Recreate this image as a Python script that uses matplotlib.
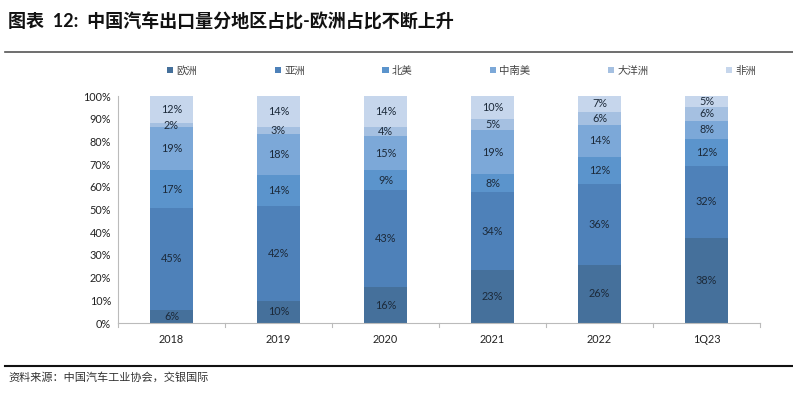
import matplotlib
matplotlib.use("Agg")
import matplotlib.pyplot as plt
from matplotlib.lines import Line2D
from matplotlib.patches import Patch
import numpy as np

plt.rcParams['font.family'] = ['Lato', 'Noto Sans CJK SC', 'DejaVu Sans']

categories = ['2018', '2019', '2020', '2021', '2022', '1Q23']
regions = ['欧洲', '亚洲', '北美', '中南美', '大洋洲', '非洲']
europe = [6, 10, 16, 23, 26, 38]
asia = [45, 42, 43, 34, 36, 32]
north_america = [17, 14, 9, 8, 12, 12]
latin_america = [19, 18, 15, 19, 14, 8]
oceania = [2, 3, 4, 5, 6, 6]
africa = [12, 14, 14, 10, 7, 5]
series = [europe, asia, north_america, latin_america, oceania, africa]
colors = ['#45709b', '#4e81b9', '#5b94cc', '#7ca8d8', '#a5c0e1', '#c6d6ec']
yticks = [0, 10, 20, 30, 40, 50, 60, 70, 80, 90, 100]

W, H = 793, 395
fig = plt.figure(figsize=(W/100, H/100), dpi=100)
ax = fig.add_axes([118/W, 1-323/H, (760-118)/W, (323-96)/H])

data = np.array(series, dtype=float)
totals = data.sum(axis=0)
norm = data / totals * 100
x = np.arange(len(categories))
bottom = np.zeros(len(categories))
for i, (vals, raw) in enumerate(zip(norm, data)):
    ax.bar(x, vals, bottom=bottom, width=0.4, color=colors[i], label=regions[i], zorder=2)
    for xi, b, v, r in zip(x, bottom, vals, raw):
        ax.text(xi, b + v/2, f'{int(r)}%', ha='center', va='center', fontsize=7.8,
                color='#1c2a3a', zorder=3)
    bottom += vals

ax.set_xlim(-0.5, len(categories)-0.5)
ax.set_ylim(0, 100)
ax.set_yticks(yticks)
ax.set_yticklabels([f'{t}%' for t in yticks], fontsize=7.8, color='#222222')
ax.set_xticks(x)
ax.set_xticklabels(categories, fontsize=7.8, color='#222222')
ax.tick_params(axis='x', length=0, pad=8)
ax.tick_params(axis='y', length=0, pad=5)
for xb in np.arange(-0.5, len(categories), 1.0):
    ax.plot([xb, xb], [0, -1.6], color='#bbbbbb', lw=0.8, clip_on=False)
for s in ['top', 'right']:
    ax.spines[s].set_visible(False)
ax.spines['left'].set_color('#bbbbbb')
ax.spines['bottom'].set_color('#bbbbbb')
ax.spines['left'].set_linewidth(0.8)
ax.spines['bottom'].set_linewidth(0.8)

handles = [Patch(facecolor=c, edgecolor='none') for c in colors]
leg = ax.legend(handles, regions, ncol=6, loc='lower left',
                bbox_to_anchor=((163-118)/642, (323-80)/227, (760-163)/642, 0.05),
                mode='expand', frameon=False, fontsize=7.5, handlelength=0.6,
                handleheight=0.6, handletextpad=0.3, borderaxespad=0)
for t in leg.get_texts():
    t.set_color('#444444')

fig.text(8/W, 1-22/H, '图表  12:  中国汽车出口量分地区占比-欧洲占比不断上升', fontsize=13,
         fontweight='bold', va='center', ha='left', color='#111111')
fig.add_artist(Line2D([5/W, 1], [1-52/H, 1-52/H], color='#555555', lw=1.2))
fig.add_artist(Line2D([5/W, 1], [1-366/H, 1-366/H], color='#111111', lw=1.5))
fig.text(8/W, 1-377/H, '资料来源：中国汽车工业协会，交银国际', fontsize=8, style='italic',
         va='center', ha='left', color='#333333')

fig.savefig('out.png', dpi=100)
